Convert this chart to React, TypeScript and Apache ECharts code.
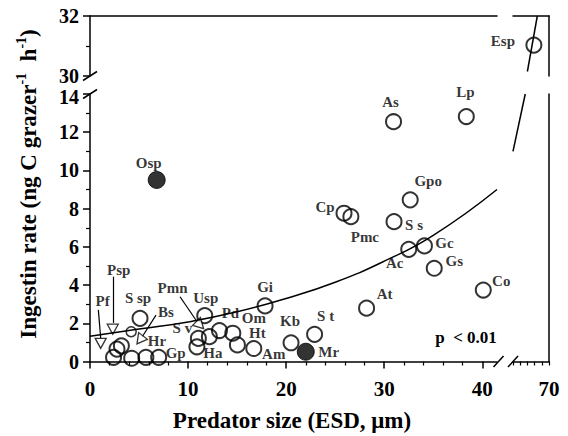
import React, { useEffect, useRef } from "react";
import * as echarts from "echarts";

const FONT = '"Liberation Serif", "Times New Roman", serif';

// x-axis tick values (main segment)
const xMajorTicks = [0, 10, 20, 30, 40];
const xMinorTicks = [2, 4, 6, 8, 12, 14, 16, 18, 22, 24, 26, 28, 32, 34, 36, 38];
const xRightLabels = [70];

// open circles (lower panel)
const openNames = ["As", "Lp", "Gpo", "Cp", "Pmc", "S s", "Ac", "Gc", "Gs", "Co", "At", "S t", "Kb", "Gi", "Usp", "Pd", "Om", "Ht", "Am", "Ha", "S v", "", "S sp", "", "", "Hr", "Gp", "", ""];
const openX = [30.95, 38.37, 32.65, 25.9, 26.6, 31.0, 32.5, 34.1, 35.1, 40.1, 28.2, 22.9, 20.5, 17.85, 11.7, 13.2, 14.56, 15.03, 16.7, 10.9, 11.05, 12.17, 5.1, 2.4, 4.25, 5.7, 7.0, 2.75, 3.2];
const openY = [12.55, 12.82, 8.46, 7.76, 7.58, 7.32, 5.87, 6.05, 4.88, 3.74, 2.79, 1.42, 0.98, 2.91, 2.4, 1.62, 1.48, 0.87, 0.68, 0.77, 1.21, 1.3, 2.26, 0.22, 0.17, 0.22, 0.22, 0.65, 0.82];

// small open circle partly hidden
const smallX = [4.2];
const smallY = [1.56];

// filled circles
const filledNames = ["Osp", "Mr"];
const filledX = [6.8, 22.0];
const filledY = [9.5, 0.51];

// upper-right panel point
const espNames = ["Esp"];
const espX = [65.8];
const espY = [31.03];

// arrow heads (open triangles) and their leader lines
const triNames = ["Pf", "Psp", "Bs", "Pmn"];
const triX = [1.09, 2.32, 5.1, 11.22];
const triY = [0.95, 1.69, 1.13, 1.91];
const leadStartX = [0.85, 2.32, 6.73, 9.18];
const leadStartY = [2.7, 4.44, 2.43, 3.39];
const leadEndX = [1.09, 2.32, 5.31, 10.92];
const leadEndY = [1.23, 2.02, 1.28, 2.08];

// regression curve
const curveLeftX = [0, 5, 10, 15, 20, 25, 30, 35, 41.5];
const curveLeftY = [1.32, 1.7, 2.07, 2.6, 3.3, 4.15, 5.25, 6.6, 9.0];
const curveRightLowX = [60, 63.4];
const curveRightLowY = [11.0, 14.0];
const curveRightUpX = [64.0, 66.75];
const curveRightUpY = [30.15, 32];

// label placement (styling, kept apart from data)
const labelOffsets: Record<string, [number, number]> = {
  As: [-3, -20], Lp: [-1, -25], Gpo: [18, -19], Cp: [-19, -6], Pmc: [14, 20],
  "S s": [20, 3], Ac: [-14, 14], Gc: [20, -3], Gs: [20, -7], Co: [18, -9],
  At: [18, -14], "S t": [11, -18], Kb: [-1, -22], Gi: [0, -19], Usp: [1, -18],
  Pd: [11, -18], Om: [21, -15], Ht: [20, -12], Am: [20, 5], Ha: [16, 6],
  "S v": [-16, -10], "S sp": [-2, -20], Hr: [11, -16], Gp: [17, -4],
  Osp: [-8, -17], Mr: [23, 0], Esp: [-31, -4],
  Pf: [2, -42], Psp: [6, -59], Bs: [26, -28], Pmn: [-27.5, -37.5],
};
const triRotate = [180, 180, 143, -135];

const black = "#000";
const lineW = 1.5;

function pts(names: string[], xs: number[], ys: number[], extra?: (i: number) => any) {
  return xs.map((x, i) => {
    const n = names[i] || "";
    const o = labelOffsets[n] || [0, 0];
    return {
      name: n,
      value: [x, ys[i]],
      label: { offset: o },
      ...(extra ? extra(i) : {}),
    };
  });
}

const labelStyle = {
  show: true,
  position: "inside",
  formatter: "{b}",
  color: black,
  fontFamily: FONT,
  fontWeight: "bold",
  fontSize: 15,
  textBorderWidth: 0,
};

const axisBase = {
  type: "value",
  splitLine: { show: false },
  axisLine: { show: true, onZero: false, lineStyle: { color: black, width: lineW } },
  axisTick: { show: false },
  axisLabel: { show: false },
};

const tickLabel = {
  show: true,
  color: black,
  fontFamily: FONT,
  fontWeight: "bold",
  fontSize: 21,
};

const yTickLabel = {
  ...tickLabel,
  fontSize: 20,
  margin: 11,
};

export default function App() {
  const ref = useRef<HTMLDivElement>(null);
  useEffect(() => {
    const chart = echarts.init(ref.current!, null, { renderer: "svg" });
    const option: any = {
      animation: false,
      backgroundColor: "#fff",
      grid: [
        { left: 90, top: 94, width: 407, height: 267.5 },
        { left: 90, top: 16, width: 407, height: 60 },
        { left: 513, top: 94, width: 36, height: 267.5 },
        { left: 513, top: 16, width: 36, height: 60 },
      ],
      xAxis: [
        {
          ...axisBase, gridIndex: 0, min: 0, max: 41.5, position: "bottom",
          axisTick: { show: true, customValues: xMajorTicks, length: 7, lineStyle: { color: black, width: lineW } },
          axisLabel: { ...tickLabel, customValues: xMajorTicks, margin: 17 },
        },
        {
          ...axisBase, gridIndex: 0, min: 0, max: 41.5, position: "bottom",
          axisLine: { show: false, onZero: false },
          axisTick: { show: true, customValues: xMinorTicks, length: 4, lineStyle: { color: black, width: 1.2 } },
        },
        { ...axisBase, gridIndex: 1, min: 0, max: 41.5, position: "top" },
        {
          ...axisBase, gridIndex: 2, min: 60, max: 70, interval: 2, position: "bottom",
          axisTick: { show: true, length: 4, lineStyle: { color: black, width: 1.2 } },
          axisLabel: { ...tickLabel, customValues: xRightLabels, margin: 17 },
        },
        { ...axisBase, gridIndex: 3, min: 60, max: 70, position: "top" },
      ],
      yAxis: [
        {
          ...axisBase, gridIndex: 0, min: 0, max: 14, interval: 2, position: "left",
          axisTick: { show: true, length: 7, lineStyle: { color: black, width: lineW } },
          minorTick: { show: true, splitNumber: 2, length: 4, lineStyle: { color: black, width: 1.2 } },
          axisLabel: {
            ...yTickLabel,
            formatter: (v: number) => (v === 14 ? `{lo|${v}}` : `${v}`),
            rich: { lo: { fontFamily: FONT, fontWeight: "bold", fontSize: 20, color: black, padding: [6, 0, 0, 0] } },
          },
        },
        {
          ...axisBase, gridIndex: 1, min: 30, max: 32, interval: 2, position: "left",
          axisTick: { show: true, length: 7, lineStyle: { color: black, width: lineW } },
          minorTick: { show: true, splitNumber: 2, length: 4, lineStyle: { color: black, width: 1.2 } },
          axisLabel: yTickLabel,
        },
        { ...axisBase, gridIndex: 2, min: 0, max: 14, position: "right" },
        { ...axisBase, gridIndex: 3, min: 30, max: 32, position: "right" },
      ],
      series: [
        {
          type: "line", xAxisIndex: 0, yAxisIndex: 0, smooth: true, symbol: "none",
          lineStyle: { color: black, width: 1.5 },
          data: curveLeftX.map((x, i) => [x, curveLeftY[i]]),
        },
        {
          type: "line", xAxisIndex: 3, yAxisIndex: 2, symbol: "none",
          lineStyle: { color: black, width: 1.5 },
          data: curveRightLowX.map((x, i) => [x, curveRightLowY[i]]),
        },
        {
          type: "line", xAxisIndex: 4, yAxisIndex: 3, symbol: "none",
          lineStyle: { color: black, width: 1.5 },
          data: curveRightUpX.map((x, i) => [x, curveRightUpY[i]]),
        },
        {
          type: "scatter", xAxisIndex: 0, yAxisIndex: 0, symbol: "circle", symbolSize: 15,
          itemStyle: { color: "rgba(0,0,0,0)", borderColor: black, borderWidth: 2 },
          label: labelStyle,
          data: pts(openNames, openX, openY),
        },
        {
          type: "scatter", xAxisIndex: 0, yAxisIndex: 0, symbol: "circle", symbolSize: 10,
          itemStyle: { color: "rgba(0,0,0,0)", borderColor: black, borderWidth: 1.5 },
          data: smallX.map((x, i) => [x, smallY[i]]),
        },
        {
          type: "scatter", xAxisIndex: 0, yAxisIndex: 0, symbol: "circle", symbolSize: 17,
          itemStyle: { color: black, borderColor: black, borderWidth: 1 },
          label: labelStyle,
          data: pts(filledNames, filledX, filledY),
        },
        {
          type: "scatter", xAxisIndex: 4, yAxisIndex: 3, symbol: "circle", symbolSize: 15,
          itemStyle: { color: "rgba(0,0,0,0)", borderColor: black, borderWidth: 2 },
          label: labelStyle,
          data: pts(espNames, espX, espY),
        },
        {
          type: "lines", coordinateSystem: "cartesian2d", xAxisIndex: 0, yAxisIndex: 0,
          lineStyle: { color: black, width: 1.2, opacity: 1 },
          data: leadStartX.map((x, i) => ({ coords: [[x, leadStartY[i]], [leadEndX[i], leadEndY[i]]] })),
        },
        {
          type: "scatter", xAxisIndex: 0, yAxisIndex: 0, symbol: "triangle", symbolSize: [11, 10],
          itemStyle: { color: "#fff", borderColor: black, borderWidth: 1.3 },
          label: labelStyle,
          data: pts(triNames, triX, triY, (i) => ({ symbolRotate: triRotate[i] })),
        },
      ],
      graphic: [
        // axis break marks
        { type: "line", shape: { x1: 83, y1: 80.5, x2: 97, y2: 71.5 }, style: { stroke: black, lineWidth: 1.5 } },
        { type: "line", shape: { x1: 83, y1: 98.5, x2: 97, y2: 89.5 }, style: { stroke: black, lineWidth: 1.5 } },
        { type: "line", shape: { x1: 493.5, y1: 367, x2: 503.5, y2: 356 }, style: { stroke: black, lineWidth: 1.5 } },
        { type: "line", shape: { x1: 508, y1: 367, x2: 518, y2: 356 }, style: { stroke: black, lineWidth: 1.5 } },
        {
          type: "text", x: 466, y: 337,
          style: { text: "p  < 0.01", fontFamily: FONT, fontWeight: "bold", fontSize: 17, fill: black, align: "center", verticalAlign: "middle" },
        },
        {
          type: "text", x: 292, y: 420,
          style: { text: "Predator size (ESD, μm)", fontFamily: FONT, fontWeight: "bold", fontSize: 23, fill: black, align: "center", verticalAlign: "middle" },
        },
        {
          type: "text", x: 28, y: 184, rotation: Math.PI / 2,
          style: {
            text: "{m|Ingestin rate (ng C grazer}{s|-1}{m|  h}{s|-1}{m|)}",
            fontFamily: FONT, fontWeight: "bold", fontSize: 23, fill: black,
            align: "center", verticalAlign: "middle",
            rich: {
              m: { fontFamily: FONT, fontWeight: "bold", fontSize: 23, fill: black, lineHeight: 27 },
              s: { fontFamily: FONT, fontWeight: "bold", fontSize: 14, fill: black, verticalAlign: "top", lineHeight: 27 },
            },
          },
        },
      ],
    };
    chart.setOption(option);
    return () => chart.dispose();
  }, []);
  return (
    <div
      ref={ref}
      style={{ position: "fixed", left: 0, top: 0, width: 568, height: 436, background: "#fff" }}
    />
  );
}
